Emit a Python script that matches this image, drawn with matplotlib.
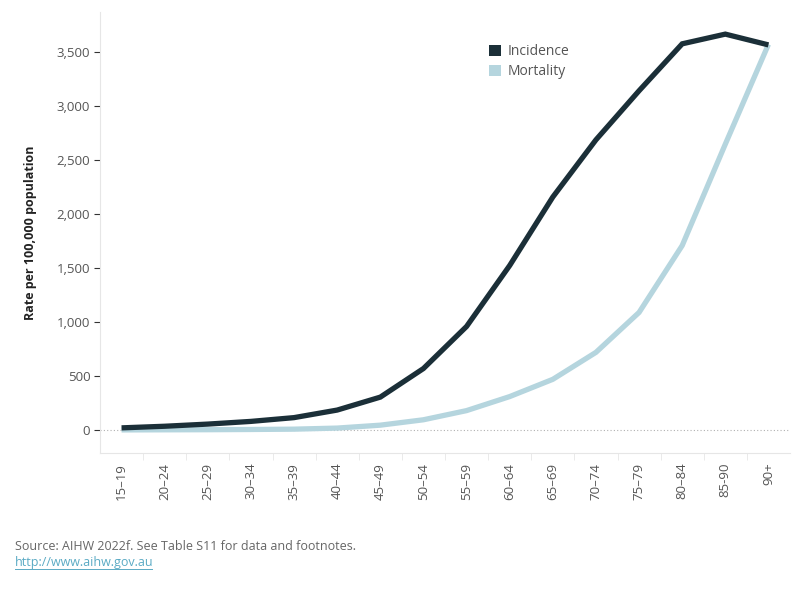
import matplotlib
matplotlib.use("Agg")
import matplotlib.pyplot as plt
from matplotlib.patches import Patch

plt.rcParams['font.family'] = ['Open Sans', 'DejaVu Sans']

age_groups = ["15–19", "20–24", "25–29", "30–34", "35–39", "40–44", "45–49", "50–54",
              "55–59", "60–64", "65–69", "70–74", "75–79", "80–84", "85-90", "90+"]
incidence = [20, 35, 55, 80, 115, 185, 305, 570, 960, 1525, 2160, 2690, 3145, 3580, 3670, 3570]
mortality = [1, 2, 3, 5, 8, 18, 45, 95, 180, 310, 470, 720, 1090, 1710, 2650, 3575]
yticks = [0, 500, 1000, 1500, 2000, 2500, 3000, 3500]

inc_color = "#1b2f38"
mort_color = "#b5d5de"
grey = "#555555"

fig = plt.figure(figsize=(8, 6), dpi=100)
ax = fig.add_axes([0.125, 0.245, 0.8625, 0.735])

x = list(range(len(age_groups)))
ax.plot(x, mortality, color=mort_color, lw=3.8, solid_capstyle='butt', solid_joinstyle='miter', zorder=3)
ax.plot(x, incidence, color=inc_color, lw=3.8, solid_capstyle='butt', solid_joinstyle='miter', zorder=4)

ax.set_xlim(-0.5, len(age_groups) - 0.5)
ax.set_ylim(-213, 3875)
ax.axhline(0, color="#b0b0b0", lw=0.8, ls=(0, (1, 2)), zorder=1)

ax.set_yticks(yticks)
ax.set_yticklabels([f"{v:,}" for v in yticks], color=grey, fontsize=9.5)
ax.tick_params(axis='y', length=4, width=0.8, color="#333333", pad=3)

ax.set_xticks(x)
ax.set_xticklabels(age_groups, rotation=90, color=grey, fontsize=9.5)
ax.tick_params(axis='x', length=0, pad=7)
ax.set_xticks([i + 0.5 for i in x[:-1]], minor=True)
ax.tick_params(axis='x', which='minor', length=5, width=0.6, color="#e6e6e6", direction='out')

for s in ['top', 'right']:
    ax.spines[s].set_visible(False)
ax.spines['left'].set_color("#e6e6e6")
ax.spines['bottom'].set_color("#e6e6e6")

ax.set_ylabel("Rate per 100,000 population", fontsize=9, fontweight='bold', color="#222222", labelpad=14)

handles = [Patch(facecolor=inc_color, edgecolor='none'), Patch(facecolor=mort_color, edgecolor='none')]
fig.legend(handles, ["Incidence", "Mortality"], loc='upper left', bbox_to_anchor=(0.595, 0.947),
           frameon=False, fontsize=10, handlelength=0.9, handleheight=0.9, handletextpad=0.5,
           labelspacing=0.35, labelcolor=grey)

fig.text(0.019, 0.09, "Source: AIHW 2022f. See Table S11 for data and footnotes.", fontsize=9, color="#666666", va='center')
t = fig.text(0.019, 0.062, "http://www.aihw.gov.au", fontsize=9, color="#5aaac4", va='center')
t.set_url("http://www.aihw.gov.au")
fig.add_artist(plt.Line2D([0.019, 0.19], [0.052, 0.052], color="#5aaac4", lw=0.7))

fig.savefig("out.png", dpi=100)
